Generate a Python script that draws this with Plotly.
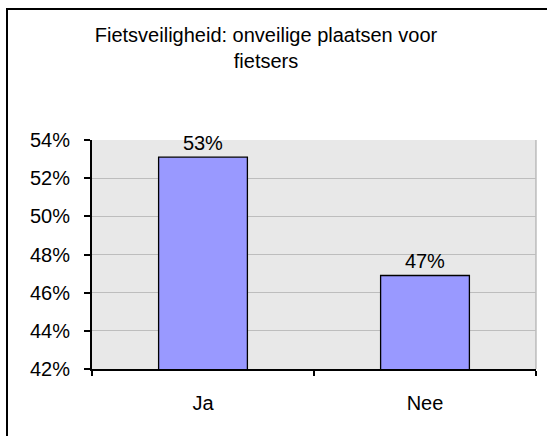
import plotly.graph_objects as go

categories = ["Ja", "Nee"]
values = [0.531, 0.469]
title_text = "Fietsveiligheid: onveilige plaatsen voor<br>fietsers"

FONT = "Liberation Sans, Arial, sans-serif"
FS = 20
W, H = 547, 436
ML, MR, MT, MB = 92, 11, 140, 67
PW = W - ML - MR
PH = H - MT - MB

def px_x(p):
    return (p - ML) / PW

def px_y(p):
    return (H - MB - p) / PH

fig = go.Figure()
fig.add_trace(go.Bar(
    x=categories,
    y=values,
    marker=dict(color="#9999FF", line=dict(color="black", width=1.3)),
    texttemplate="%{y:.0%}",
    textposition="outside",
    textfont=dict(family=FONT, size=FS, color="black"),
    cliponaxis=False,
    hoverinfo="skip",
))

border = dict(color="black", width=2)
fig.update_layout(
    width=W, height=H,
    margin=dict(l=ML, r=MR, t=MT, b=MB),
    paper_bgcolor="white",
    plot_bgcolor="#E8E8E8",
    bargap=0.6,
    showlegend=False,
    font=dict(family=FONT, size=FS, color="black"),
    title=dict(text=title_text, x=266 / W, xref="container", xanchor="center",
               y=1 - 42 / H, yref="container", yanchor="middle",
               font=dict(family=FONT, size=FS, color="black")),
    xaxis=dict(
        showgrid=False, showline=True, linecolor="black", linewidth=2,
        ticks="outside", tickson="boundaries", ticklen=5, tickcolor="black", tickwidth=1.5,
        ticklabelstandoff=15,
        tickfont=dict(family=FONT, size=FS, color="black"),
        fixedrange=True,
    ),
    yaxis=dict(
        range=[0.42, 0.54], dtick=0.02, tick0=0.42, tickformat=".0%",
        showgrid=True, gridcolor="#BDBDBD", gridwidth=1,
        showline=True, linecolor="black", linewidth=2,
        ticks="outside", ticklen=6, tickcolor="black", tickwidth=1.5,
        ticklabelstandoff=10,
        tickfont=dict(family=FONT, size=FS, color="black"),
        zeroline=False, fixedrange=True,
    ),
    shapes=[
        dict(type="line", xref="paper", yref="paper", x0=1, x1=1, y0=0, y1=1,
             line=dict(color="#A0A0A0", width=1), layer="below"),
        dict(type="line", xref="paper", yref="paper",
             x0=px_x(6), x1=px_x(W), y0=px_y(9), y1=px_y(9), line=border),
        dict(type="line", xref="paper", yref="paper",
             x0=px_x(7), x1=px_x(7), y0=px_y(8), y1=px_y(H), line=border),
    ],
)

fig.write_html(
    "out.html",
    config={"displayModeBar": False},
    post_script="document.documentElement.style.margin='0';document.body.style.margin='0';"
                "document.body.style.padding='0';document.body.style.overflow='hidden';"
                "document.documentElement.style.overflow='hidden';",
)
